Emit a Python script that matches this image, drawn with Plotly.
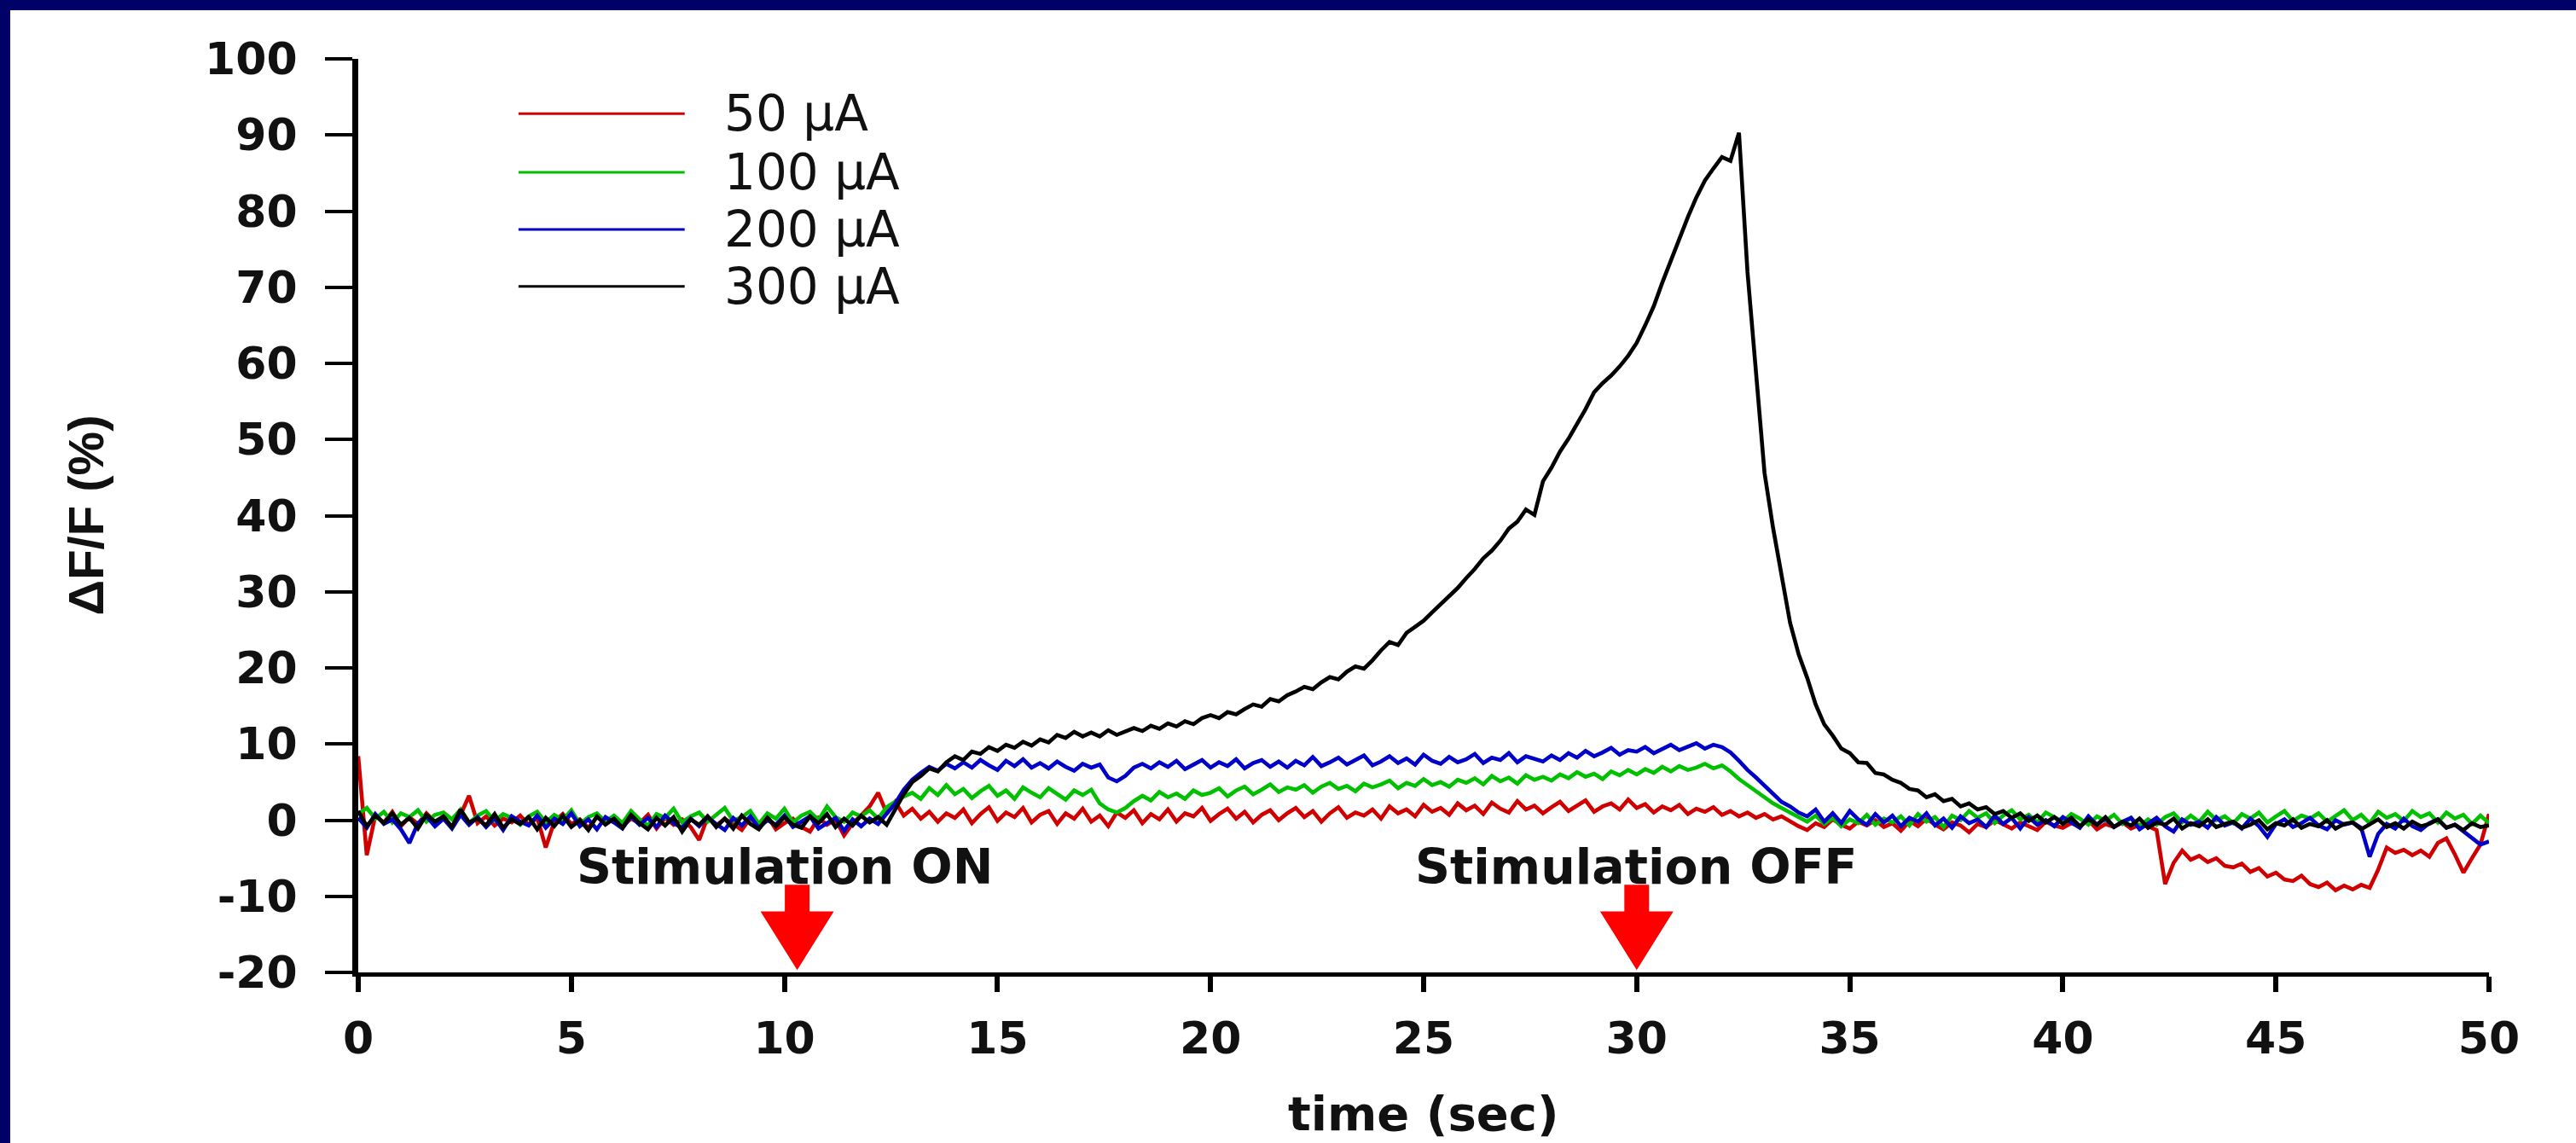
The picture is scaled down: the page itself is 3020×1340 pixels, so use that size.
import numpy as np
import plotly.graph_objects as go

# ---------------- data ----------------
SAMPLE_DT = 0.2  # seconds between samples

series_names = ["50 µA", "100 µA", "200 µA", "300 µA"]
series_colors = ["#d00000", "#00c000", "#0000c8", "#000000"]

ua50 = [
    8.4, -4.6, 0.6, -0.3, 1.1, -0.8, 0.4, -0.5, 0.9, -0.2,
    0.3, -0.9, 0.7, 3.2, -0.4, 0.5, -0.7, 0.2, -0.3, 0.6,
    -0.6, 0.3, -3.6, -0.2, 0.8, -0.5, 0.1, -1.0, 0.4, -0.3,
    0.5, -0.8, 0.2, -0.4, 0.7, -1.1, 0.3, -0.6, 0.1, -0.9,
    -2.6, 0.4, -0.7, 0.2, -0.5, -1.3, 0.3, -0.8, 0.5, -1.2,
    -0.4, 0.2, -0.9, -1.5, 0.3, -0.6, 0.1, -2.0, -0.4, 0.6,
    1.8, 3.6, 0.9, 2.4, 0.6, 1.5, 0.2, 1.1, -0.2, 0.9,
    0.3, 1.4, -0.4, 0.8, 1.7, -0.1, 1.0, 0.4, 1.6, -0.3,
    0.7, 1.2, -0.5, 0.9, 0.2, 1.5, -0.2, 0.6, -0.8, 1.0,
    0.3, 1.3, -0.4, 0.8, 0.1, 1.4, -0.2, 0.9, 0.5, 1.6,
    -0.1, 0.8, 1.5, 0.2, 1.1, -0.3, 0.7, 1.3, 0.0, 0.9,
    1.6, 0.4, 1.2, -0.2, 0.9, 1.7, 0.3, 1.0, 0.6, 1.4,
    0.2, 1.8, 0.9, 1.4, 0.5, 2.0, 1.1, 1.6, 0.7, 2.2,
    1.3, 1.9, 0.8, 2.3, 1.5, 1.0, 2.5, 1.4, 1.9, 0.9,
    1.7, 2.4, 1.2, 1.9, 2.6, 1.1, 1.8, 2.2, 1.4, 2.7,
    1.6, 2.1, 1.0, 1.8, 1.3, 2.0, 0.8, 1.5, 1.1, 1.7,
    0.7, 1.2, 0.5, 1.0, 0.3, 0.8, 0.1, 0.5, -0.2, -0.8,
    -1.3, -0.4, -0.9, 0.1, -0.6, -1.1, -0.2, -0.7, 0.0, -0.9,
    -0.4, -1.4, -0.1, -0.8, 0.2, -0.6, -1.2, -0.3, -0.7, -1.6,
    -0.5, -0.9, 0.0, -0.6, -1.1, -0.3, -0.8, -1.3, -0.2, -0.7,
    -1.0, -0.4, -0.8, 0.0, -1.2, -0.5, -0.9, -0.3, -1.1, -0.6,
    -0.8, -1.3, -8.4, -5.6, -4.0, -5.2, -4.7, -5.5, -5.0, -6.0,
    -6.2, -5.7, -6.8, -6.3, -7.4, -6.9, -7.8, -8.0, -7.3, -8.4,
    -8.8, -8.2, -9.2, -8.6, -9.1, -8.5, -8.9, -6.5, -3.6, -4.3,
    -3.9, -4.6, -4.0, -4.8, -3.0, -2.4, -4.5, -6.9, -5.0, -3.2,
    0.8,
]

ua100 = [
    0.8, 1.6, 0.2, 1.1, -0.3, 0.9, 0.4, 1.3, -0.2, 0.7,
    1.0, 0.1, 1.4, -0.4, 0.6, 1.2, -0.1, 0.8, 0.3, -0.6,
    0.5, 1.1, -0.3, 0.7, 0.0, 1.3, -0.5, 0.4, 0.9, -0.2,
    0.6, -0.4, 1.2, 0.1, -0.7, 0.8, 0.3, 1.5, -0.3, 0.5,
    1.0, -0.2, 0.7, 1.6, -0.1, 0.4, 1.2, -0.5, 0.9, 0.2,
    1.5, -0.3, 0.6, 1.1, 0.0, 1.8, 0.4, -0.2, 1.0, 0.5,
    1.3, 0.2, 1.7, 2.4, 3.1, 3.6, 2.8, 4.2, 3.3, 4.6,
    3.4, 4.1, 2.9, 3.8, 4.5, 3.2, 3.9, 2.8, 4.3, 3.6,
    3.0, 4.2, 3.5, 2.7, 3.9, 3.3, 4.0, 2.2, 1.4, 1.0,
    1.6, 2.5, 3.2, 2.6, 3.7, 3.0, 3.5, 2.8, 3.9, 3.3,
    3.6, 4.2, 3.1, 3.9, 4.4, 3.4, 4.0, 4.7, 3.7, 4.3,
    4.0, 4.6, 3.6, 4.4, 4.9, 4.1, 4.5, 3.8, 4.8, 4.3,
    4.7, 5.2, 4.2, 4.9, 4.5, 5.4, 4.6, 5.0, 4.4, 5.3,
    4.9, 5.5, 4.7, 5.8, 5.1, 5.6, 4.8, 5.9, 5.3, 5.7,
    5.2, 6.0, 5.5, 6.3, 5.7, 6.1, 5.4, 6.4, 5.9, 6.6,
    6.0, 6.7, 6.2, 7.0, 6.4, 7.1, 6.6, 6.9, 7.4, 6.8,
    7.2, 6.4, 5.4, 4.6, 3.7, 3.0, 2.2, 1.6, 1.0, 0.4,
    -0.2, 0.6, -0.5, 0.3, -0.8, 0.1, -0.4, 0.7, -0.6, 0.2,
    -0.3, 0.5, -0.7, 0.8, -0.2, 0.4, -0.9, 0.6, 0.0, 1.2,
    0.3, 0.9, -0.4, 0.6, 1.3, 0.1, 0.7, -0.3, 1.0, 0.4,
    -0.2, 0.8, 0.2, -0.6, 0.5, -0.1, 0.7, -0.5, 0.3, -0.8,
    0.1, -0.6, 0.4, 0.9, -0.3, 0.6, -0.2, 1.1, 0.0, 0.5,
    -0.4, 0.8, 0.2, 1.0, -0.3, 0.5, 1.2, -0.1, 0.6, 0.2,
    0.9, -0.2, 0.5, 1.3, 0.0, 0.7, -0.4, 1.1, 0.3, 0.8,
    -0.1, 1.2, 0.4, 0.9, -0.3, 1.0, 0.2, 0.7, -0.5, 0.6,
    -0.4,
]

ua200 = [
    0.3, -1.0, 0.8, -0.5, 0.1, -1.2, -3.0, -0.4, 0.5, -0.8,
    0.2, -1.1, 0.7, -0.6, 0.4, -0.9, 0.3, -1.3, 0.5, -0.2,
    -0.7, 0.6, -1.0, 0.2, -0.5, 0.9, -0.8, 0.1, -1.2, 0.4,
    -0.3, -1.1, 0.5, -0.6, 0.3, -0.9, 0.6, -0.4, -1.0, 0.2,
    -0.8, 0.4, -0.5, -1.3, 0.3, -0.7, 0.5, -1.0, 0.0, -0.6,
    0.6, -0.9, -0.2, 0.5, -1.1, -0.4, 0.3, -1.4, 0.1, -0.8,
    0.2, -0.5, 0.9, 2.2, 4.0, 5.3, 6.2, 7.0, 6.5, 7.4,
    6.8, 7.6, 6.9, 7.9, 7.2, 6.6, 7.8, 7.1, 8.0, 6.9,
    7.5, 6.8, 7.7, 7.0, 6.5, 7.4, 6.9, 7.3, 5.6, 5.1,
    5.8, 6.9, 7.4, 6.8, 7.6, 7.0, 7.8, 6.7, 7.3, 7.9,
    6.9, 7.6, 7.1, 8.0, 6.8, 7.5, 7.9, 7.0, 7.7, 6.9,
    7.8, 7.2, 8.3, 7.1, 7.6, 8.2, 7.3, 7.9, 8.5, 7.2,
    7.7, 8.4, 7.5, 8.1, 7.3, 8.6, 7.8, 7.4, 8.3, 7.6,
    8.0, 8.7, 7.5, 8.2, 7.9, 8.8, 7.6, 8.4, 8.1, 7.7,
    8.5, 7.9, 8.8, 8.2, 9.1, 8.4, 8.9, 9.5, 8.6, 9.2,
    9.0, 9.6, 8.8, 9.4, 9.9, 9.2, 9.7, 10.1, 9.4, 9.9,
    9.6, 8.9, 7.8, 6.6, 5.6, 4.5, 3.5, 2.4, 1.8, 1.0,
    0.5, 1.4, -0.2, 0.9, -0.4, 1.2, 0.1, -0.6, 0.8, -0.3,
    0.6, -0.8, 0.3, -0.2, 0.9, -0.7, 0.2, -1.0, 0.5, -0.4,
    0.1, -0.9, 0.6, -0.5, 0.3, -1.1, 0.4, -0.6, 0.0, -0.8,
    0.4, -0.3, -1.0, 0.5, -0.6, 0.2, -0.9, -0.2, 0.3, -1.2,
    -0.4, 0.3, -0.8, -1.5, 0.1, -0.6, -0.2, -1.0, 0.4, -0.7,
    -0.3, -1.1, 0.2, -0.8, -2.2, -0.5, 0.1, -0.9, -0.4, 0.3,
    -0.7, -1.2, 0.0, -0.6, -0.3, -1.0, -4.8, -1.8, -0.5, -1.1,
    0.2, -0.8, -1.3, -0.4, 0.1, -1.0, -0.6, -1.5, -2.4, -3.2,
    -2.8,
]

ua300 = [
    1.2, -0.8, 0.6, -0.4, 0.9, -0.6, 0.3, -1.1, 0.7, -0.2,
    0.5, -0.9, 1.4, -0.3, 0.2, -0.7, 0.8, -1.0, 0.1, -0.5,
    0.4, -1.2, 0.3, -0.8, 0.6, -0.9, 0.0, -1.3, 0.5, -0.6,
    0.2, -1.0, 0.7, -0.4, -1.2, 0.3, -0.7, 0.4, -1.5, 0.1,
    -0.6, 0.5, -0.9, 0.2, -1.1, 0.6, -0.5, -1.2, 0.3, -0.8,
    0.4, -0.6, -1.0, 0.5, -0.4, 0.8, -0.9, 0.2, -0.7, 0.6,
    -0.3, 0.4, -0.6, 1.5, 3.4, 5.0, 5.8, 6.8, 6.4, 7.6,
    8.4, 7.9, 9.0, 8.7, 9.6, 9.1, 9.9, 9.5, 10.3, 9.8,
    10.6, 10.2, 11.2, 10.8, 11.6, 11.0, 11.5, 11.0, 11.8, 11.2,
    11.6, 12.1, 11.7, 12.4, 12.0, 12.7, 12.3, 13.0, 12.6, 13.4,
    13.8, 13.4, 14.2, 13.9, 14.6, 15.2, 14.9, 15.9, 15.6, 16.4,
    16.9, 17.5, 17.2, 18.1, 18.8, 18.5, 19.5, 20.2, 19.9, 21.0,
    22.3, 23.4, 23.0, 24.6, 25.4, 26.2, 27.3, 28.4, 29.4, 30.5,
    31.8, 33.0, 34.4, 35.4, 36.7, 38.3, 39.2, 40.8, 40.1, 44.5,
    46.3, 48.4, 50.1, 52.0, 54.0, 56.2, 57.4, 58.4, 59.6, 61.0,
    62.7, 65.0, 67.5, 70.6, 73.5, 76.3, 79.2, 81.8, 84.0, 85.6,
    87.1, 86.6, 90.3, 72.0, 58.0, 45.6, 38.4, 31.8, 25.9, 21.8,
    18.7, 15.2, 12.6, 11.1, 9.4, 8.8, 7.6, 7.5, 6.2, 6.0,
    5.3, 4.9, 4.1, 3.9, 3.0, 3.4, 2.5, 2.8, 1.8, 2.2,
    1.4, 1.7, 0.8, 1.2, 0.3, 0.9, -0.1, 0.6, -0.3, 0.4,
    -0.5, 0.3, -0.8, 0.1, -0.6, 0.4, -0.9, -0.2, -0.7, 0.2,
    -1.0, -0.3, -0.6, 0.2, -1.1, -0.4, -0.8, 0.1, -0.9, -0.5,
    -0.2, -1.0, -0.6, 0.0, -1.2, -0.4, -0.7, 0.1, -1.0, -0.5,
    -0.8, 0.0, -1.1, -0.5, -0.3, -1.2, -0.6, 0.1, -0.9, -0.4,
    -1.1, -0.2, -0.8, -0.5, 0.1, -1.0, -0.6, -1.3, -0.4, -0.9,
    -0.7,
]

series_values = [ua50, ua100, ua200, ua300]

x_tick_vals = list(range(0, 51, 5))
y_tick_vals = list(range(-20, 101, 10))
x_tick_text = [str(v) for v in x_tick_vals]
y_tick_text = [str(v) for v in y_tick_vals]  # plain hyphen minus, as in the figure

stim_arrow_times = [10.3, 30.0]
stim_label_times = [10.0, 30.0]
stim_labels = ["Stimulation ON", "Stimulation OFF"]

# ---------------- figure ----------------
W, H = 3020, 1340
ML, MR, MT, MB = 420, 102, 69, 200
NAVY = "#000066"

fig = go.Figure()

for name, color, vals in zip(series_names, series_colors, series_values):
    t = np.round(np.arange(len(vals)) * SAMPLE_DT, 2)
    fig.add_trace(go.Scatter(
        x=t, y=vals, mode="lines", name=name,
        line=dict(color=color, width=4.6),
        showlegend=False, hoverinfo="skip",
    ))

shapes = []
pw = W - ML - MR
ph = H - MT - MB
# white panel inside the navy frame (frame only on top and left)
shapes.append(dict(
    type="rect", xref="paper", yref="paper", layer="below",
    x0=(12 - ML) / pw, x1=(W - ML) / pw,
    y0=-(MB) / ph, y1=1 + (MT - 12) / ph,
    fillcolor="white", line=dict(width=0),
))

# stimulation arrows (red, pointing down to the axis)
shaft_hw, head_hw = 0.29, 0.86
shaft_top, head_base, tip = -8.5, -12.0, -19.7
for ta in stim_arrow_times:
    path = (f"M{ta-shaft_hw},{shaft_top} L{ta+shaft_hw},{shaft_top} "
            f"L{ta+shaft_hw},{head_base} L{ta+head_hw},{head_base} "
            f"L{ta},{tip} L{ta-head_hw},{head_base} "
            f"L{ta-shaft_hw},{head_base} Z")
    shapes.append(dict(type="path", xref="x", yref="y", path=path,
                       fillcolor="#ff0000", line=dict(width=0), layer="above"))

# custom legend (long line samples)
leg_x0, leg_x1, leg_text_x = 3.76, 7.66, 8.55
leg_rows = [92.8, 85.1, 77.6, 70.1]
annotations = []
for name, color, yy in zip(series_names, series_colors, leg_rows):
    shapes.append(dict(type="line", xref="x", yref="y",
                       x0=leg_x0, x1=leg_x1, y0=yy, y1=yy,
                       line=dict(color=color, width=3)))
    annotations.append(dict(
        x=leg_text_x, y=yy, xref="x", yref="y", text=name,
        showarrow=False, xanchor="left", yanchor="middle",
        font=dict(family="DejaVu Sans", size=58, color="#111111"),
    ))

for tl, lab in zip(stim_label_times, stim_labels):
    annotations.append(dict(
        x=tl, y=-6.1, xref="x", yref="y", text=lab, showarrow=False,
        xanchor="center", yanchor="middle",
        font=dict(family="DejaVu Sans", size=57, color="#111111", weight="bold"),
    ))

# axis titles
annotations.append(dict(
    x=25, y=(1140 - 1306) / ph, xref="x", yref="paper", text="time (sec)",
    showarrow=False, xanchor="center", yanchor="middle",
    font=dict(family="DejaVu Sans", size=56, color="#111111", weight="bold"),
))
annotations.append(dict(
    x=(100 - ML) / pw, y=40, xref="paper", yref="y", text="ΔF/F (%)",
    showarrow=False, xanchor="center", yanchor="middle", textangle=-90,
    font=dict(family="Liberation Sans", size=58, color="#111111", weight="bold"),
))

tick_font = dict(family="DejaVu Sans", size=52, color="#111111", weight="bold")

fig.update_layout(
    width=W, height=H,
    margin=dict(l=ML, r=MR, t=MT, b=MB, pad=0),
    paper_bgcolor=NAVY, plot_bgcolor="white",
    shapes=shapes, annotations=annotations,
    showlegend=False,
    xaxis=dict(
        range=[0, 50], tickmode="array", tickvals=x_tick_vals, ticktext=x_tick_text,
        ticks="outside", ticklen=18, tickwidth=6, tickcolor="black",
        showline=True, linewidth=5, linecolor="black",
        showgrid=False, zeroline=False, tickfont=tick_font,
        ticklabelstandoff=10,
    ),
    yaxis=dict(
        range=[-20, 100], tickmode="array", tickvals=y_tick_vals, ticktext=y_tick_text,
        ticks="outside", ticklen=32, tickwidth=4, tickcolor="black",
        showline=True, linewidth=7, linecolor="black",
        showgrid=False, zeroline=False, tickfont=tick_font,
        ticklabelstandoff=22,
    ),
)

fig.write_html("out.html", config={"displayModeBar": False},
               post_script="document.body.style.margin='0';document.body.style.overflow='hidden';")
